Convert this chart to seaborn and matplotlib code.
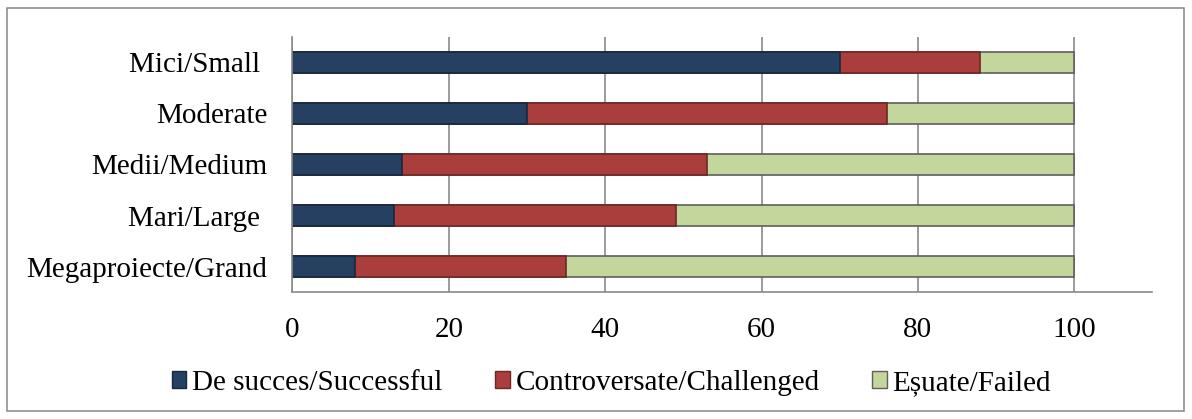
import numpy as np
import pandas as pd
import matplotlib
matplotlib.use('Agg')
import matplotlib.pyplot as plt
from matplotlib.patches import Patch, Rectangle
import seaborn as sns

# data (percent of projects)
categories = ['Mici/Small ', 'Moderate', 'Medii/Medium', 'Mari/Large ', 'Megaproiecte/Grand']
successful = [70, 30, 14, 13, 8]
challenged = [18, 46, 39, 36, 27]
failed = [12, 24, 47, 51, 65]
series_names = ['De succes/Successful', 'Controversate/Challenged', 'Eșuate/Failed']
x_ticks = [0, 20, 40, 60, 80, 100]

fill_colors = ['#264061', '#AA3E3C', '#C3D69B']
edge_colors = ['#18293f', '#6e2725', '#5e5e5e']

sns.set_style('white')
plt.rcParams['font.family'] = ['Liberation Serif', 'DejaVu Serif']
plt.rcParams['font.size'] = 21
plt.rcParams['text.color'] = 'black'

df = pd.DataFrame({'category': categories,
                   'successful': successful,
                   'challenged': challenged,
                   'failed': failed})
# cumulative ends for the stacked look
df['cum1'] = df['successful']
df['cum2'] = df['successful'] + df['challenged']
df['cum3'] = df['cum2'] + df['failed']

fig = plt.figure(figsize=(11.92, 4.19), dpi=100)
ax = fig.add_axes([0.2453, 0.3031, 0.7215, 0.6086])

# draw from the total downwards so the shorter pieces sit on top
for col, fc, ec in zip(['cum3', 'cum2', 'cum1'], fill_colors[::-1], edge_colors[::-1]):
    sns.barplot(data=df, x=col, y='category', orient='h', color=fc,
                edgecolor=ec, linewidth=1.2, width=0.42, saturation=1, ax=ax)

ax.set_xlim(0, 110)
ax.set_ylim(4.5, -0.5)
ax.set_xticks(x_ticks)
ax.set_xticklabels([str(t) for t in x_ticks])
ax.set_xlabel('')
ax.set_ylabel('')

# vertical gridlines behind bars
ax.set_axisbelow(True)
ax.xaxis.grid(True, color='#8a8a8a', linewidth=1.2)
ax.yaxis.grid(False)

for s in ['top', 'right']:
    ax.spines[s].set_visible(False)
for s in ['left', 'bottom']:
    ax.spines[s].set_color('#8a8a8a')
    ax.spines[s].set_linewidth(1.2)

ax.tick_params(axis='x', length=0, pad=18, labelsize=21, colors='black')
ax.tick_params(axis='y', length=0, pad=18, labelsize=21, colors='black')

handles = [Patch(facecolor=fc, edgecolor=ec, linewidth=1.0)
           for fc, ec in zip(fill_colors, edge_colors)]
fig.legend(handles, series_names, loc='center', bbox_to_anchor=(0.513, 0.086),
           ncol=3, frameon=False, fontsize=21, handlelength=0.5,
           handleheight=0.5, handletextpad=0.2, columnspacing=1.8,
           labelcolor='black')

# outer chart border
fig.patches.append(Rectangle((7 / 1192, 8 / 419), 1177 / 1192, 403 / 419,
                             transform=fig.transFigure, fill=False,
                             edgecolor='#868686', linewidth=1.1))

fig.savefig('out.png', dpi=100)
